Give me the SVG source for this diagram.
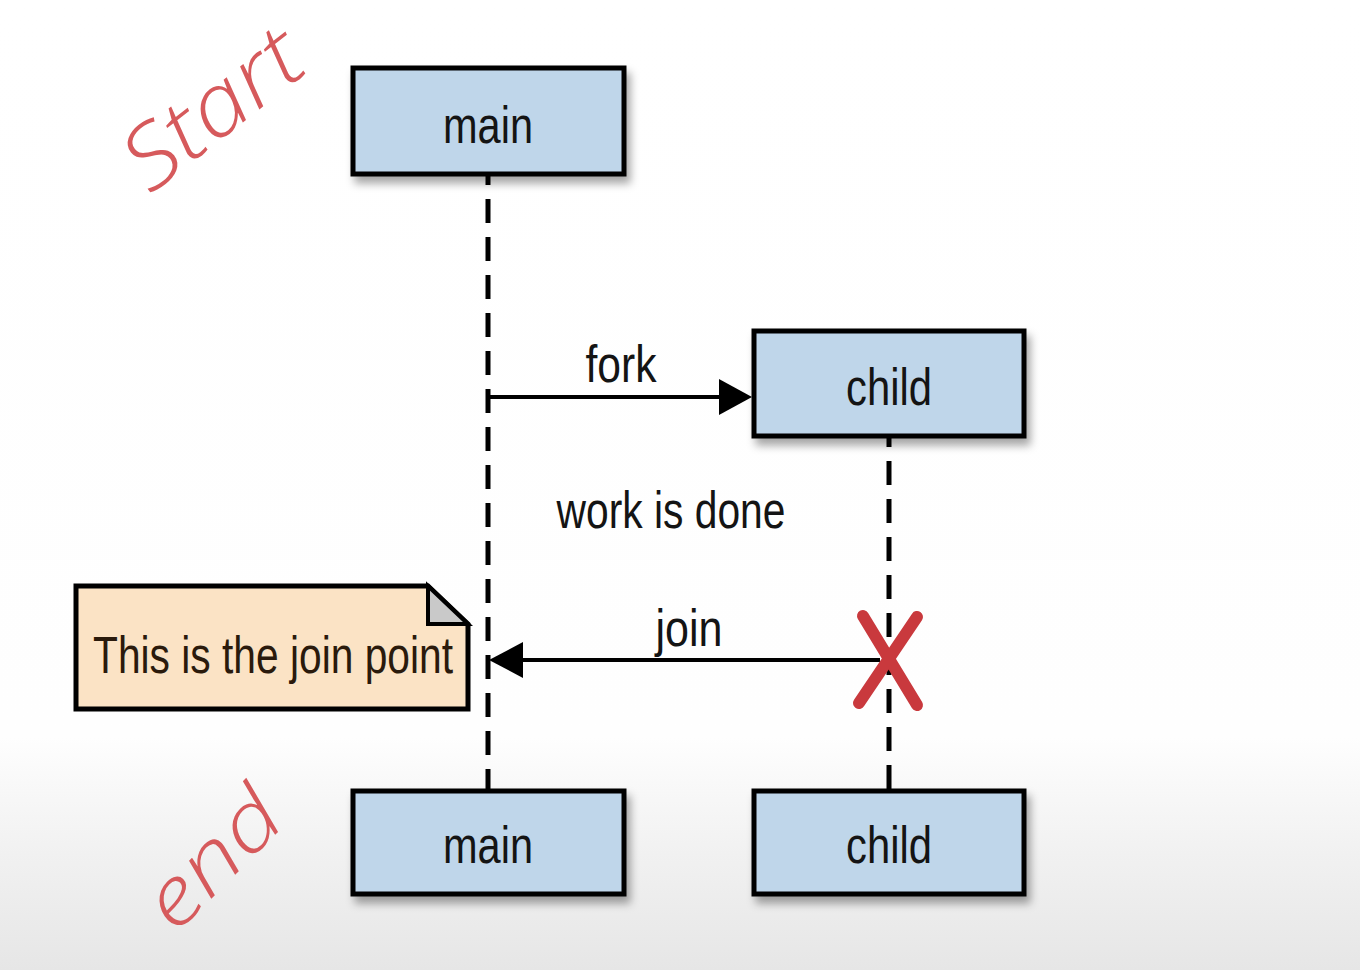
<svg xmlns="http://www.w3.org/2000/svg" width="1360" height="970" viewBox="0 0 1360 970">
  <defs>
    <linearGradient id="bg" x1="0" y1="0" x2="0" y2="1">
      <stop offset="0" stop-color="#ffffff"/>
      <stop offset="0.76" stop-color="#fefefe"/>
      <stop offset="0.88" stop-color="#f1f1f1"/>
      <stop offset="1" stop-color="#e6e6e6"/>
    </linearGradient>
    <filter id="shadow" x="-10%" y="-10%" width="130%" height="140%">
      <feDropShadow dx="4" dy="7" stdDeviation="4" flood-color="#000" flood-opacity="0.35"/>
    </filter>
  </defs>
  <style>
    .box { fill: #bfd6ea; stroke: #000; stroke-width: 5; }
    .lbl { font-family: "Liberation Sans Narrow", "Liberation Sans", Arial, sans-serif; font-size: 52px; fill: #141414; }
    .life { stroke: #000; stroke-width: 5; stroke-dasharray: 24 14; stroke-dashoffset: 14; fill: none; }
    .msg { stroke: #000; stroke-width: 4; fill: none; }
    .head { fill: #000; }
    .hand { font-family: "Open Sans", "DejaVu Sans", sans-serif; font-weight: 300; font-style: italic; fill: #d65a5c; }
    .xmark { stroke: #c9393d; stroke-width: 12; stroke-linecap: round; fill: none; }
  </style>

  <rect x="0" y="0" width="1360" height="970" fill="url(#bg)"/>

  <g id="connectors">
    <line class="life" x1="488" y1="175" x2="488" y2="790"/>
    <line class="life" x1="889" y1="437" x2="889" y2="790"/>
    <line class="msg" x1="488" y1="397" x2="720" y2="397"/>
    <path class="head" d="M752,397 L719,379 L719,415 Z"/>
    <line class="msg" x1="523" y1="660" x2="880" y2="660"/>
    <path class="head" d="M489,660 L523,642 L523,678 Z"/>
    <text class="lbl" x="621" y="382" text-anchor="middle" textLength="71" lengthAdjust="spacingAndGlyphs">fork</text>
    <text class="lbl" x="671" y="528" text-anchor="middle" textLength="229" lengthAdjust="spacingAndGlyphs">work is done</text>
    <text class="lbl" x="689" y="646" text-anchor="middle" textLength="67" lengthAdjust="spacingAndGlyphs">join</text>
  </g>

  <g id="main-top">
    <rect class="box" x="353" y="68" width="271" height="106" filter="url(#shadow)"/>
    <text class="lbl" x="488" y="143" text-anchor="middle" textLength="90" lengthAdjust="spacingAndGlyphs">main</text>
  </g>

  <g id="child-top">
    <rect class="box" x="754" y="331" width="270" height="105" filter="url(#shadow)"/>
    <text class="lbl" x="889" y="405" text-anchor="middle" textLength="86" lengthAdjust="spacingAndGlyphs">child</text>
  </g>

  <g id="main-bottom">
    <rect class="box" x="353" y="791" width="271" height="103" filter="url(#shadow)"/>
    <text class="lbl" x="488" y="863" text-anchor="middle" textLength="90" lengthAdjust="spacingAndGlyphs">main</text>
  </g>

  <g id="child-bottom">
    <rect class="box" x="754" y="791" width="270" height="103" filter="url(#shadow)"/>
    <text class="lbl" x="889" y="863" text-anchor="middle" textLength="86" lengthAdjust="spacingAndGlyphs">child</text>
  </g>

  <g id="note">
    <path d="M76,586 L428,586 L468,624 L468,709 L76,709 Z" fill="#fbe3c5" stroke="#000" stroke-width="5"/>
    <path d="M428,586 L428,624 L468,624 Z" fill="#c9c9c9" stroke="#000" stroke-width="4"/>
    <text class="lbl" x="93" y="673" textLength="360" lengthAdjust="spacingAndGlyphs" style="fill:#2a1a0c">This is the join point</text>
  </g>

  <g id="destroy">
    <line class="xmark" x1="863" y1="616" x2="917" y2="705"/>
    <line class="xmark" x1="917" y1="617" x2="859" y2="703"/>
  </g>

  <g id="start-note">
    <text class="hand" x="0" y="0" font-size="86" transform="translate(150,195) rotate(-38)" textLength="205" lengthAdjust="spacingAndGlyphs">Start</text>
  </g>

  <g id="end-note">
    <text class="hand" x="0" y="0" font-size="80" transform="translate(175,935) rotate(-45)" textLength="160" lengthAdjust="spacingAndGlyphs">end</text>
  </g>
</svg>
